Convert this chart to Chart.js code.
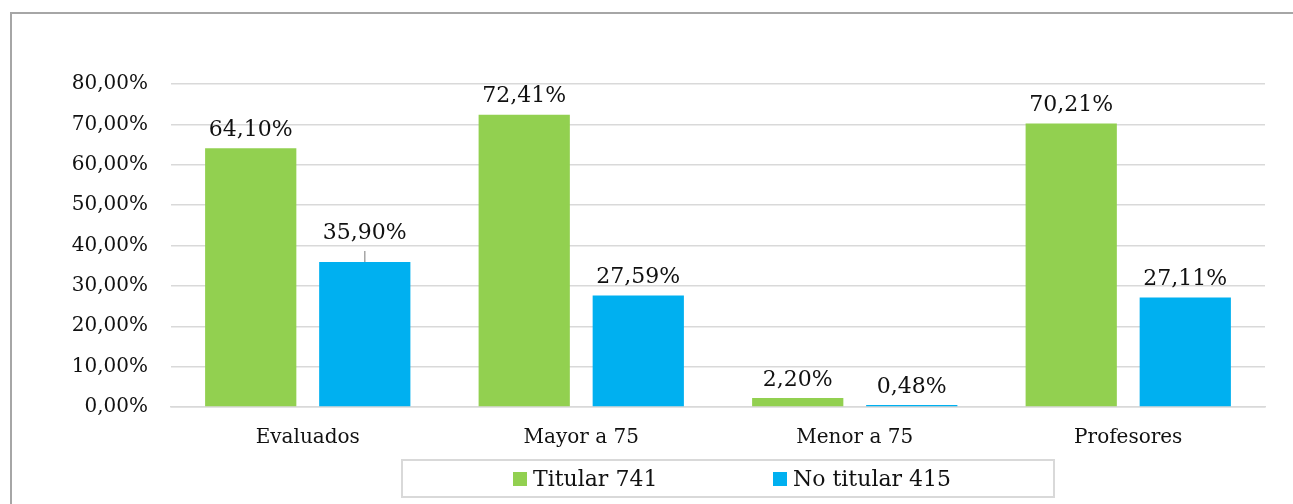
<!DOCTYPE html>
<html>
<head>
<meta charset="utf-8">
<script src="https://cdn.jsdelivr.net/npm/chart.js@4/dist/chart.umd.min.js"></script>
<style>
  html, body { margin: 0; padding: 0; background: #fff; }
  #frame { position: absolute; left: 10px; top: 12px; width: 1320px; height: 520px; border: 2px solid #a6a6a6; box-sizing: border-box; }
  #wrap { position: absolute; left: 0; top: 0; width: 1293px; height: 504px; }
  #legend { position: absolute; left: 401px; top: 459px; width: 654px; height: 39px; box-sizing: border-box;
            border: 2px solid #d9d9d9; font-family: "DejaVu Serif", serif; font-size: 22px; color: #111;
            display: flex; align-items: center; }
  #legend .item { display: flex; align-items: center; position: absolute; }
  #legend .box { width: 14px; height: 14px; margin-right: 6px; }
</style>
</head>
<body>
<div id="frame"></div>
<div id="wrap"><canvas id="myChart" width="1293" height="504"></canvas></div>
<div id="legend"></div>
<script>
// data
const categories = ['Evaluados', 'Mayor a 75', 'Menor a 75', 'Profesores'];
const seriesNames = ['Titular 741', 'No titular 415'];
const titular = [64.10, 72.41, 2.20, 70.21];
const noTitular = [35.90, 27.59, 0.48, 27.11];
const yTicks = [0, 10, 20, 30, 40, 50, 60, 70, 80];

/* colors */
let colorGreen = '#92D050';
let colorBlue = '#00B0F0';
let colorGrid = '#d9d9d9';

const fmt = (v) => v.toFixed(2).replace('.', ',') + '%';

// value labels above bars (Excel style)
const barLabels = {
  id: 'barLabels',
  afterDatasetsDraw(chart, args, opts) {
    const ctx = chart.ctx;
    ctx.save();
    ctx.font = '22px "DejaVu Serif", serif';
    ctx.fillStyle = '#111';
    ctx.textAlign = 'center';
    ctx.textBaseline = 'middle';
    chart.data.datasets.forEach((ds, di) => {
      chart.getDatasetMeta(di).data.forEach((bar, i) => {
        let lift = opts.offset;
        const moved = opts.moved.find(m => m.dataset === di && m.index === i);
        if (moved) {
          lift += moved.extra;
          ctx.strokeStyle = '#a6a6a6';
          ctx.lineWidth = 1.5;
          ctx.beginPath();
          ctx.moveTo(bar.x, bar.y);
          ctx.lineTo(bar.x, bar.y - moved.extra);
          ctx.stroke();
        }
        ctx.fillText(fmt(ds.data[i]), bar.x, bar.y - lift);
      });
    });
    ctx.restore();
  }
};

const data = {
  labels: categories,
  datasets: [
    { label: seriesNames[0], data: titular, backgroundColor: colorGreen },
    { label: seriesNames[1], data: noTitular, backgroundColor: colorBlue },
  ],
};

const chartConfig = {
  type: 'bar',
  data,
  options: {
    responsive: false,
    animation: false,
    categoryPercentage: 0.834,
    barPercentage: 0.8,
    layout: { padding: { left: 0, right: 28, top: 84, bottom: 43 } },
    plugins: {
      legend: { display: false },
      tooltip: { enabled: false },
      barLabels: { offset: 18, moved: [{ dataset: 1, index: 0, extra: 11 }] },
    },
    scales: {
      x: {
        grid: { display: false },
        border: { color: colorGrid, width: 1.5 },
        ticks: { color: '#111', padding: 11, font: { family: '"DejaVu Serif", serif', size: 20 } },
      },
      y: {
        min: 0,
        max: 80,
        afterFit(scale) { scale.width = 171; },
        afterBuildTicks(scale) { scale.ticks = yTicks.map(v => ({ value: v })); },
        border: { display: false },
        grid: { color: colorGrid, lineWidth: 1.5, drawTicks: false },
        ticks: {
          color: '#111',
          padding: 23,
          font: { family: '"DejaVu Serif", serif', size: 20 },
          callback: (v) => fmt(v),
        },
      },
    },
  },
  plugins: [barLabels],
};

const ctx = document.getElementById('myChart').getContext('2d');
const myChart = new Chart(ctx, chartConfig);

// legend box below the chart
const legend = document.getElementById('legend');
const itemLeft = [110, 370];
data.datasets.forEach((ds, i) => {
  const item = document.createElement('div');
  item.className = 'item';
  item.style.left = itemLeft[i] + 'px';
  const box = document.createElement('span');
  box.className = 'box';
  box.style.background = ds.backgroundColor;
  const txt = document.createElement('span');
  txt.textContent = ds.label;
  item.appendChild(box);
  item.appendChild(txt);
  legend.appendChild(item);
});
</script>
</body>
</html>
